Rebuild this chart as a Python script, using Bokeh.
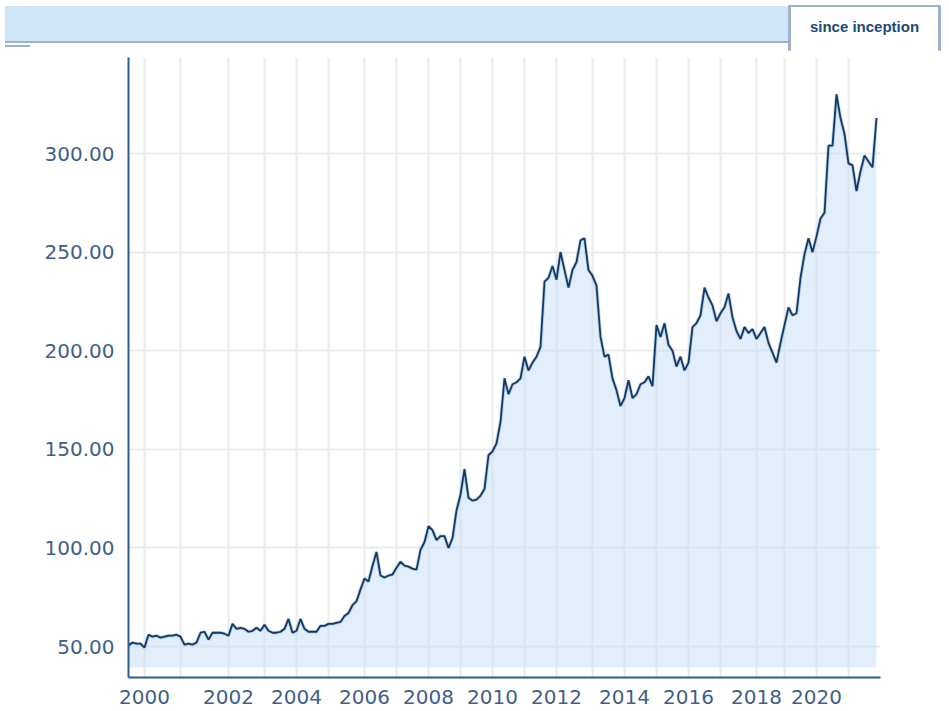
from bokeh.plotting import figure
from bokeh.models import FixedTicker, NumeralTickFormatter, Div, ColumnDataSource, Range1d
from bokeh.layouts import column
from bokeh.embed import file_html
from bokeh.resources import INLINE

# Price series, one value per evenly spaced observation (ordinal x axis)
values = [
    50.5, 52, 51.5, 51.5, 49.5, 56, 55, 55.5, 54.5, 55,
    55.5, 55.5, 56, 55, 51, 51.5, 51, 52, 57, 57.5,
    53.5, 57, 57, 57, 56.5, 55.5, 61.5, 59, 59.5, 59,
    57.5, 58, 59.5, 58, 61, 58, 57, 57, 57.5, 59,
    64, 57, 58, 64, 59, 57.5, 57.5, 57.5, 60.5, 60.5,
    61.5, 61.5, 62, 62.5, 65.5, 67, 71, 73, 79, 84.5,
    83, 91, 98, 86, 85, 86, 86.5, 90, 93, 91,
    90.5, 89.5, 89, 99, 103, 111, 109, 104, 106, 106,
    100, 105, 119, 127, 140, 125.5, 124, 124.5, 126.5, 130,
    147, 149, 153, 164, 186, 178, 183, 184, 186, 197,
    190, 194, 197, 202, 235, 237, 243, 236, 250, 241,
    232, 241, 245, 256, 257, 241, 238, 233, 207, 197,
    198, 186, 180, 172, 176, 185, 176, 178, 183, 184,
    187, 182, 213, 207, 214, 203, 200, 192, 197, 190,
    194, 212, 214, 218, 232, 227, 223, 215, 219, 222,
    229, 217, 210, 206, 212, 209, 211, 206, 209, 212,
    204, 199, 194, 204, 213, 222, 218, 219, 237, 249,
    257, 250, 258, 267, 270, 304, 304, 330, 318, 310,
    295, 294, 281, 291, 299, 296, 293, 318,
]

# Observation index at which each calendar year begins
year_labels = ["2000", "2001", "2002", "2003", "2004", "2005", "2006", "2007",
               "2008", "2009", "2010", "2011", "2012", "2013", "2014", "2015",
               "2016", "2017", "2018", "2019", "2020", "2021"]
year_start_index = [4, 13, 25, 34, 42, 50, 59, 67, 75, 83, 91, 99, 107, 116,
                    124, 132, 140, 148, 157, 164, 172, 180]
y_ticks = [50, 100, 150, 200, 250, 300]
fill_base = 39.4
tab_label = "since inception"

idx = list(range(len(values)))
src = ColumnDataSource(dict(x=idx, y=values, base=[fill_base] * len(values)))

p = figure(width=949, height=661,
           x_range=Range1d(0, 188), y_range=Range1d(34.3, 348.7),
           output_backend="svg", toolbar_location=None,
           min_border_left=128, min_border_right=69,
           min_border_top=7, min_border_bottom=34)
p.outline_line_color = None
p.background_fill_color = "white"
p.border_fill_color = "white"

p.varea(x="x", y1="base", y2="y", source=src,
        fill_color="#c5ddf3", fill_alpha=0.5)
p.line("x", "y", source=src, line_color="#5f88b3", line_width=3.5, line_alpha=0.35)
p.line("x", "y", source=src, line_color="#0f3a68", line_width=1.8)

# x axis: labels on even years, grid on every year
p.xaxis.ticker = FixedTicker(ticks=year_start_index[::2])
p.xaxis.major_label_overrides = {i: lab for i, lab in
                                 zip(year_start_index[::2], year_labels[::2])}
p.xgrid.ticker = FixedTicker(ticks=year_start_index)

p.yaxis.ticker = FixedTicker(ticks=y_ticks)
p.yaxis.formatter = NumeralTickFormatter(format="0.00")
p.ygrid.ticker = FixedTicker(ticks=y_ticks)

for g in (p.xgrid, p.ygrid):
    g.grid_line_color = "#ebebeb"
    g.grid_line_width = 2

for ax in (p.xaxis, p.yaxis):
    ax.axis_line_color = "#2e5b8a"
    ax.axis_line_width = 2
    ax.major_tick_line_color = None
    ax.minor_tick_line_color = None
    ax.major_tick_out = 0
    ax.major_tick_in = 0
    ax.major_label_text_font = "DejaVu Sans"
    ax.major_label_text_font_size = "20px"
    ax.major_label_text_color = "#3e5f8a"

p.yaxis.major_label_standoff = 14
p.xaxis.major_label_standoff = 12

band_html = f"""<div style="position:relative;width:949px;height:50px;background:#fff;">
<div style="position:absolute;left:5px;top:6px;width:783px;height:37px;background:#cfe5f8;border-bottom:2px solid #9db1c7;"></div>
<div style="position:absolute;left:5px;top:45px;width:25px;height:2px;background:#9db1c7;"></div>
<div style="position:absolute;left:788px;top:5px;width:147px;height:40px;background:#fff;border-left:3px solid #9db1c7;border-right:3px solid #9db1c7;border-top:2px solid #9db1c7;display:flex;align-items:center;justify-content:center;padding-bottom:4px;box-sizing:content-box;font-family:'Liberation Sans',Arial,sans-serif;font-weight:bold;font-size:15px;color:#1d4a78;">{tab_label}</div>
</div>"""
band = Div(text=band_html, width=949, height=50, margin=(0, 0, 0, 0))

layout = column(band, p, spacing=0)

open("out.html", "w").write(file_html(layout, INLINE))
